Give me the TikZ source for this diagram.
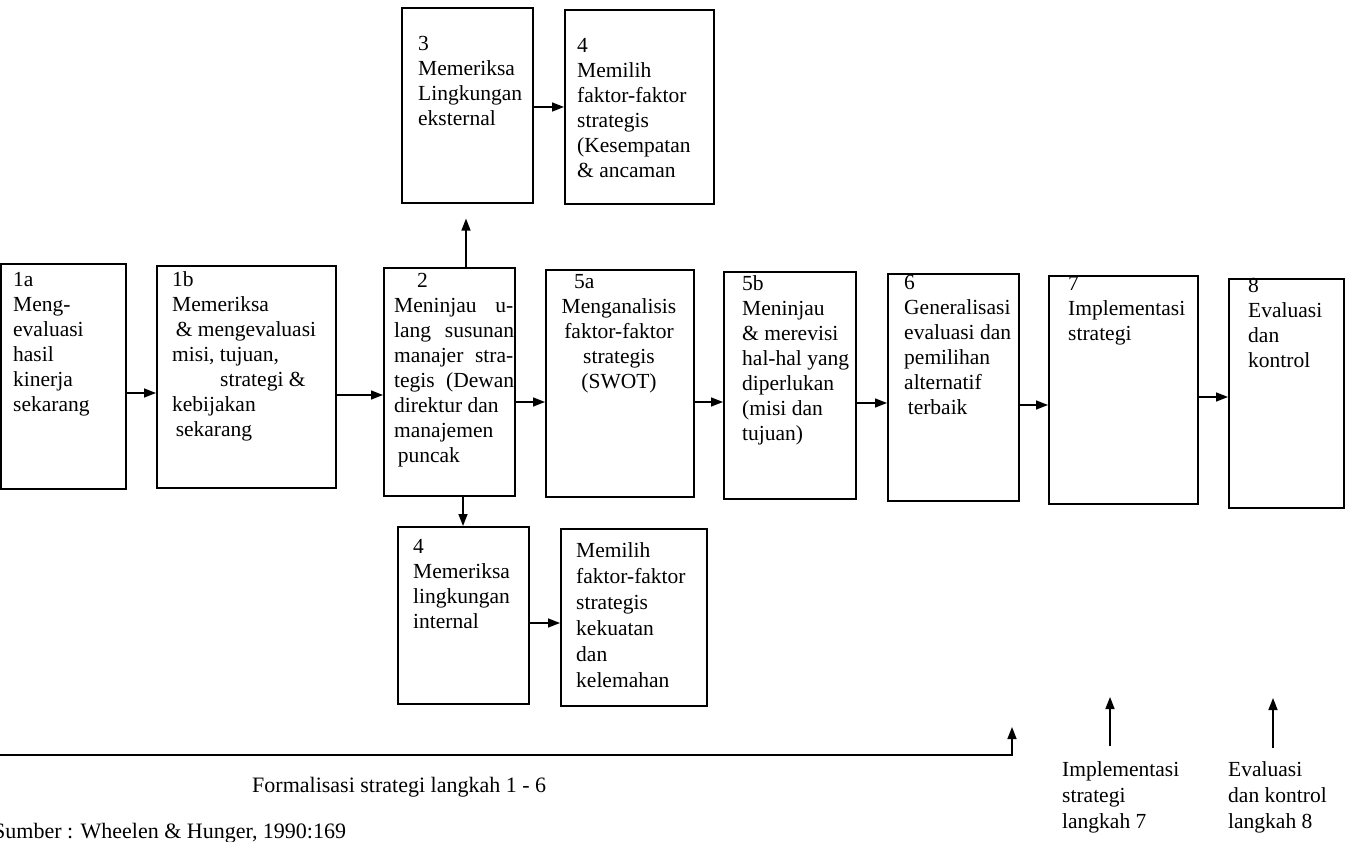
\documentclass[tikz,border=0pt]{standalone}
\usepackage{fontspec}
\setmainfont{Liberation Serif}
\usetikzlibrary{arrows.meta,calc}
\newcommand{\bxfont}{\fontsize{21.5}{25}\selectfont}
\begin{document}
\begin{tikzpicture}[x=1pt,y=-1pt,
  box/.style={draw,line width=1.6pt,inner sep=0pt,anchor=north west},
  txt/.style={anchor=north west,align=left,inner sep=0pt,font=\bxfont},
  arr/.style={line width=1.6pt,-{Triangle[length=12pt,width=9pt]}}]
\useasboundingbox (0,0) rectangle (1345,842);
% main row boxes
\node[box,minimum width=125pt,minimum height=225pt] (b1a) at (0,263) {};
\node[box,minimum width=179pt,minimum height=222pt] (b1b) at (156,265) {};
\node[box,minimum width=131pt,minimum height=228pt] (b2) at (383,267) {};
\node[box,minimum width=148pt,minimum height=227pt] (b5a) at (545,269) {};
\node[box,minimum width=132pt,minimum height=227pt] (b5b) at (723,271) {};
\node[box,minimum width=131pt,minimum height=227pt] (b6) at (887,273) {};
\node[box,minimum width=149pt,minimum height=228pt] (b7) at (1048,275) {};
\node[box,minimum width=115pt,minimum height=229pt] (b8) at (1228,278) {};
% top boxes
\node[box,minimum width=131pt,minimum height=195pt] (b3) at (401,7) {};
\node[box,minimum width=149pt,minimum height=194pt] (b4a) at (564,9) {};
% bottom boxes
\node[box,minimum width=131pt,minimum height=177pt] (b4b) at (397,526) {};
\node[box,minimum width=146pt,minimum height=177pt] (b4c) at (560,528) {};
% texts
\node[txt] (t1a) at (13,272) {1a\\Meng-\\evaluasi\\hasil\\kinerja\\sekarang};
\node[txt] (t1b) at (172,271) {1b\\Memeriksa\\\,\& mengevaluasi\\misi, tujuan,\\\hspace*{48pt}strategi \&\\kebijakan\\\,sekarang};
\node[txt] (t2) at (394,273) {\hspace*{23pt}2\\\makebox[119pt][s]{Meninjau u-}\\\makebox[120pt][s]{lang susunan}\\\makebox[119pt][s]{manajer stra-}\\\makebox[120pt][s]{tegis (Dewan}\\direktur dan\\manajemen\\\,puncak};
\node[txt,anchor=north,align=center] (t5a) at (619,274) {\makebox[90pt][l]{5a}\\Menganalisis\\faktor-faktor\\strategis\\(SWOT)};
\node[txt] (t5b) at (742,275) {5b\\Meninjau\\\& merevisi\\hal-hal yang\\diperlukan\\(misi dan\\tujuan)};
\node[txt] (t6) at (904,275) {6\\Generalisasi\\evaluasi dan\\pemilihan\\alternatif\\\,terbaik};
\node[txt] (t7) at (1068,276) {7\\Implementasi\\strategi};
\node[txt] (t8) at (1248,278) {8\\Evaluasi\\dan\\kontrol};
\node[txt] (t3) at (418,36) {3\\Memeriksa\\Lingkungan\\eksternal};
\node[txt] (t4a) at (577,38) {4\\Memilih\\faktor-faktor\\strategis\\(Kesempatan\\\& ancaman};
\node[txt] (t4b) at (413,539) {4\\Memeriksa\\lingkungan\\internal};
\node[txt,font=\fontsize{21.5}{26}\selectfont] (t4c) at (576,542) {Memilih\\faktor-faktor\\strategis\\kekuatan\\dan\\kelemahan};
% bottom labels
\node[txt,font=\fontsize{22}{25}\selectfont] (tform) at (252,777) {Formalisasi strategi langkah 1 - 6};
\node[txt,font=\fontsize{22}{25}\selectfont] (tsum) at (-7,823) {Sumber : Wheelen \& Hunger, 1990:169};
\node[txt,font=\fontsize{21.5}{26}\selectfont] (t7b) at (1062,761) {Implementasi\\strategi\\langkah 7};
\node[txt,font=\fontsize{21.5}{26}\selectfont] (t8b) at (1228,761) {Evaluasi\\dan kontrol\\langkah 8};
% main arrows
\draw[arr] (b1a.east |- 0,393) -- (b1b.west |- 0,393);
\draw[arr] (b1b.east |- 0,395) -- (b2.west |- 0,395);
\draw[arr] (b2.east |- 0,402) -- (b5a.west |- 0,402);
\draw[arr] (b5a.east |- 0,402) -- (b5b.west |- 0,402);
\draw[arr] (b5b.east |- 0,403) -- (b6.west |- 0,403);
\draw[arr] (b6.east |- 0,405) -- (b7.west |- 0,405);
\draw[arr] (b7.east |- 0,397) -- (b8.west |- 0,397);
% branches
\draw[arr] (b2.north -| 466,0) -- ($(b3.south -| 466,0)+(0,15)$);
\draw[arr] (b3.east |- 0,107) -- (b4a.west |- 0,107);
\draw[arr] (b2.south -| 463,0) -- (b4b.north -| 463,0);
\draw[arr] (b4b.east |- 0,623) -- (b4c.west |- 0,623);
% bottom line
\coordinate (fs) at (-2,755);
\coordinate (ftip) at (1012,727);
\draw[arr] (fs) -| (ftip);
\coordinate (a7top) at (1110,697);
\coordinate (a8top) at (1273,698);
\draw[arr] ($(t7b.north -| a7top)+(0,-15)$) -- (a7top);
\draw[arr] ($(t8b.north -| a8top)+(0,-13)$) -- (a8top);
\end{tikzpicture}
\end{document}
